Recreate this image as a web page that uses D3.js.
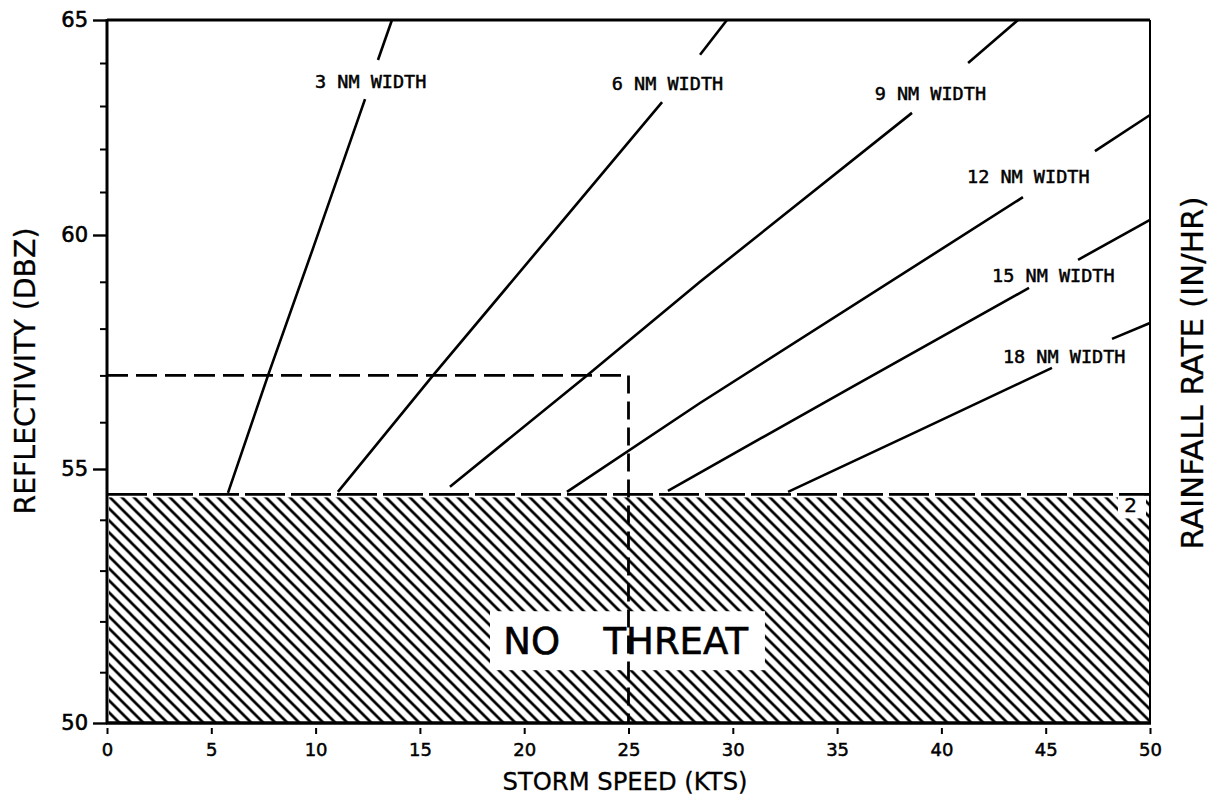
<!DOCTYPE html>
<html><head><meta charset="utf-8">
<script src="https://cdn.jsdelivr.net/npm/d3@7"></script>
<style>
html,body{margin:0;padding:0;background:#fff;}
svg{display:block;}
</style></head><body>
<svg id="chart" width="1210" height="798"></svg>
<script>
// ---------- data ----------
const speedTicks = [0,5,10,15,20,25,30,35,40,45,50];
const dbzTicks = [50,55,60,65];
const dbzMinorTicks = [51,52,53,54,56,57,58,59,61,62,63,64];
const noThreatCeiling = 54.5;          // dBZ
const boxSpeed = 25;                    // kts
const boxDbz = 57;                      // dBZ
const widthNames = ["3 NM WIDTH","6 NM WIDTH","9 NM WIDTH","12 NM WIDTH","15 NM WIDTH","18 NM WIDTH"];
// each curve: [speed kts, dBZ]; lower part (below label) and upper part (above label)
const lowerParts = [
  [[5.8,54.53],[7.72,57.0],[9.88,59.72],[12.37,63.16]],
  [[11.07,54.55],[15.63,57.0],[21.48,60.12],[26.61,63.09]],
  [[16.44,54.65],[23.01,57.0],[28.43,59.0],[38.59,62.84]],
  [[22.05,54.55],[28.43,56.41],[43.91,60.88]],
  [[26.89,54.57],[35.62,56.73],[44.2,58.87]],
  [[32.65,54.55],[38.97,55.83],[45.3,57.16]]
];
const upperParts = [
  [[12.99,64.07],[13.66,65]],
  [[28.43,64.19],[29.72,65]],
  [[41.28,64.0],[43.67,65]],
  [[47.36,61.95],[50,62.79]],
  [[46.55,59.47],[50,60.35]],
  [[48.18,57.78],[50,58.12]]
];
const labelSpeeds = [9.97,24.2,36.8,41.23,42.43,42.95];
const labelDbz = [63.42,63.37,63.14,61.21,59.0,57.26];
const noThreatWords = ["NO","THREAT"];
const noThreatSpeeds = [19.0,23.8];
const noThreatDbz = 51.35;
const noThreatBoxSpeed = [18.36,31.54];
const noThreatBoxDbz = [52.2,51.04];
const rainTickLabel = "2";
const rainTickDbz = 54.5;

// ---------- scales ----------
const x = d3.scaleLinear().domain([0,50]).range([107,1150]);
const y = d3.scaleLinear().domain([50,55,60,65]).range([723,469,235,20]);

const svg = d3.select("#chart");
svg.append("rect").attr("width",1210).attr("height",798).attr("fill","#fff");

// hatch pattern
const defs = svg.append("defs");
const pat = defs.append("pattern").attr("id","hatch")
  .attr("patternUnits","userSpaceOnUse").attr("width",12).attr("height",12)
  .attr("x",x(0)).attr("y",y(noThreatCeiling));
pat.append("path").attr("d","M-3,-3 L15,15 M-3,9 L3,15 M9,-3 L15,3")
  .attr("stroke","#000").attr("stroke-width",2.7).attr("fill","none");

svg.append("rect")
  .attr("x",x(0)+2).attr("y",y(noThreatCeiling)+3)
  .attr("width",x(50)-x(0)-2).attr("height",y(50)-y(noThreatCeiling)-3)
  .attr("fill","url(#hatch)");

// no-threat box
svg.append("rect")
  .attr("x",x(noThreatBoxSpeed[0])).attr("y",y(noThreatBoxDbz[0]))
  .attr("width",x(noThreatBoxSpeed[1])-x(noThreatBoxSpeed[0]))
  .attr("height",y(noThreatBoxDbz[1])-y(noThreatBoxDbz[0]))
  .attr("fill","#fff");
svg.selectAll("text.nt").data(noThreatWords).enter().append("text")
  .attr("class","nt")
  .attr("x",(d,i)=>x(noThreatSpeeds[i])).attr("y",y(noThreatDbz))
  .attr("font-family","DejaVu Sans").attr("font-size",37)
  .attr("stroke","#000").attr("stroke-width",0.6)
  .text(d=>d);

// threshold dashed line
svg.append("line")
  .attr("x1",x(0)).attr("x2",x(50))
  .attr("y1",y(noThreatCeiling)).attr("y2",y(noThreatCeiling))
  .attr("stroke","#000").attr("stroke-width",2.8).attr("stroke-dasharray","40,6");

// rainfall tick label "2"
svg.append("rect").attr("x",x(50)-32).attr("y",y(rainTickDbz)+2)
  .attr("width",28).attr("height",22).attr("fill","#fff");
svg.append("text").attr("x",x(50)-13).attr("y",y(rainTickDbz)+18)
  .attr("text-anchor","end").attr("font-family","DejaVu Sans").attr("font-size",20)
  .attr("stroke","#000").attr("stroke-width",0.4)
  .text(rainTickLabel);
svg.append("line").attr("x1",x(50)-6).attr("x2",x(50))
  .attr("y1",y(rainTickDbz)).attr("y2",y(rainTickDbz))
  .attr("stroke","#000").attr("stroke-width",2);

// box dashed lines
svg.append("line")
  .attr("x1",x(0)).attr("x2",x(boxSpeed))
  .attr("y1",y(boxDbz)).attr("y2",y(boxDbz))
  .attr("stroke","#000").attr("stroke-width",2.8).attr("stroke-dasharray","21,8");
svg.append("line")
  .attr("x1",x(boxSpeed)).attr("x2",x(boxSpeed))
  .attr("y1",y(boxDbz)).attr("y2",y(50))
  .attr("stroke","#000").attr("stroke-width",2.8).attr("stroke-dasharray","18,8");

// width curves
const line = d3.line().x(d=>x(d[0])).y(d=>y(d[1]));
svg.selectAll("path.lo").data(lowerParts).enter().append("path")
  .attr("class","lo").attr("d",line)
  .attr("fill","none").attr("stroke","#000").attr("stroke-width",2.6);
svg.selectAll("path.up").data(upperParts).enter().append("path")
  .attr("class","up").attr("d",line)
  .attr("fill","none").attr("stroke","#000").attr("stroke-width",2.6);
svg.selectAll("text.wl").data(widthNames).enter().append("text")
  .attr("class","wl")
  .attr("x",(d,i)=>x(labelSpeeds[i])).attr("y",(d,i)=>y(labelDbz[i]))
  .attr("font-family","DejaVu Sans Mono").attr("font-size",18.5)
  .attr("stroke","#000").attr("stroke-width",0.5)
  .text(d=>d);

// frame
svg.append("line").attr("x1",x(0)).attr("x2",x(50)).attr("y1",y(65)).attr("y2",y(65))
  .attr("stroke","#000").attr("stroke-width",2.8);
svg.append("line").attr("x1",x(50)).attr("x2",x(50)).attr("y1",y(65)).attr("y2",y(50))
  .attr("stroke","#000").attr("stroke-width",2);
svg.append("line").attr("x1",x(0)-1).attr("x2",x(50)+1).attr("y1",y(50)).attr("y2",y(50))
  .attr("stroke","#000").attr("stroke-width",3.4);
svg.append("line").attr("x1",x(0)).attr("x2",x(0)).attr("y1",y(65)-1).attr("y2",y(50)+1)
  .attr("stroke","#000").attr("stroke-width",3);

// y axis
const yAxis = svg.append("g").attr("transform",`translate(${x(0)},0)`)
  .call(d3.axisLeft(y).tickValues(dbzTicks).tickSize(14).tickSizeOuter(0).tickPadding(5).tickFormat(d3.format("d")));
yAxis.select(".domain").remove();
yAxis.selectAll("line").attr("stroke","#000").attr("stroke-width",2.4);
yAxis.selectAll("text").attr("font-family","DejaVu Sans").attr("font-size",21).attr("fill","#000")
  .attr("stroke","#000").attr("stroke-width",0.6);
const yMinor = svg.append("g").attr("transform",`translate(${x(0)},0)`)
  .call(d3.axisLeft(y).tickValues(dbzMinorTicks).tickSize(7).tickSizeOuter(0).tickFormat(""));
yMinor.select(".domain").remove();
yMinor.selectAll("line").attr("stroke","#000").attr("stroke-width",2);

// x axis
const xAxis = svg.append("g").attr("transform",`translate(0,${y(50)+5})`)
  .call(d3.axisBottom(x).tickValues(speedTicks).tickSize(6).tickSizeOuter(0).tickPadding(9).tickFormat(d3.format("d")));
xAxis.select(".domain").remove();
xAxis.selectAll("line").attr("stroke","#000").attr("stroke-width",2);
xAxis.selectAll("text").attr("font-family","DejaVu Sans").attr("font-size",18).attr("fill","#000")
  .attr("stroke","#000").attr("stroke-width",0.5);

// titles
svg.append("text").attr("x",625).attr("y",790).attr("text-anchor","middle")
  .attr("font-family","DejaVu Sans").attr("font-size",24)
  .attr("stroke","#000").attr("stroke-width",0.3)
  .attr("textLength",245).attr("lengthAdjust","spacingAndGlyphs")
  .text("STORM SPEED (KTS)");
svg.append("text").attr("transform","translate(35,371) rotate(-90)").attr("text-anchor","middle")
  .attr("font-family","DejaVu Sans").attr("font-size",28)
  .attr("stroke","#000").attr("stroke-width",0.3)
  .attr("textLength",287).attr("lengthAdjust","spacingAndGlyphs")
  .text("REFLECTIVITY (DBZ)");
svg.append("text").attr("transform","translate(1203,373) rotate(-90)").attr("text-anchor","middle")
  .attr("font-family","DejaVu Sans").attr("font-size",31)
  .attr("stroke","#000").attr("stroke-width",0.3)
  .attr("textLength",353).attr("lengthAdjust","spacingAndGlyphs")
  .text("RAINFALL RATE (IN/HR)");
</script>
</body></html>
